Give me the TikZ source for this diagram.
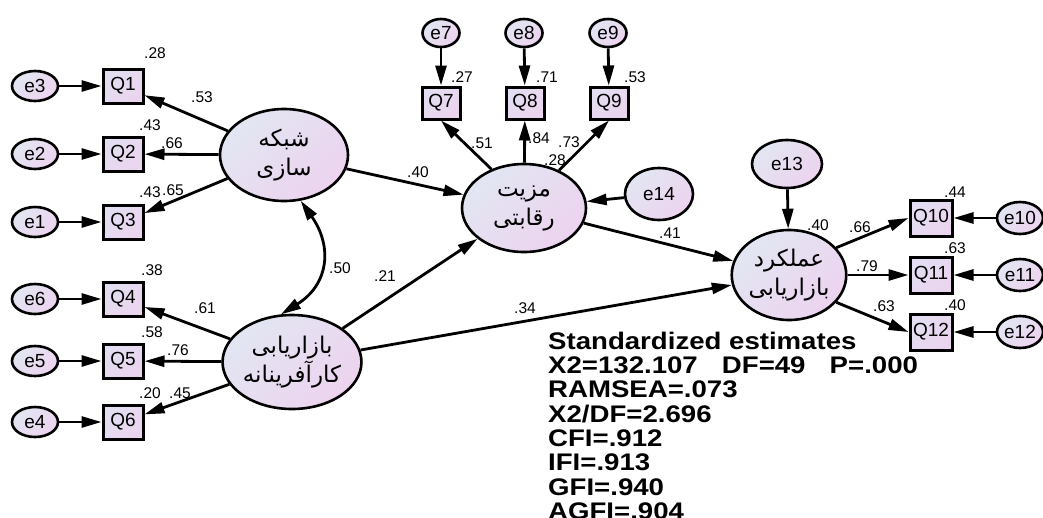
\documentclass[tikz,border=0pt]{standalone}
\usepackage{fontspec}
\setmainfont{Liberation Sans}
\newfontfamily\fa[Script=Arabic]{DejaVu Sans}
\TeXXeTstate=1
\usetikzlibrary{arrows.meta,shapes.geometric}
\definecolor{gA}{HTML}{E2E6F2}
\definecolor{gB}{HTML}{EDD3EF}
\definecolor{bA}{HTML}{E3DEF1}
\definecolor{bB}{HTML}{EAD4EE}
\begin{document}
\begin{tikzpicture}[x=1pt,y=-1pt,
  lat/.style={ellipse, draw=black, line width=2.6pt, top color=gA, bottom color=gB, shading angle=45, inner sep=0, font=\fa\fontsize{23}{29}\selectfont, align=center},
  err/.style={ellipse, draw=black, line width=2.6pt, top color=gA, bottom color=gB, shading angle=45, inner sep=0, font=\fontsize{19}{19}\selectfont},
  obs/.style={rectangle, draw=black, line width=3pt, top color=bA, bottom color=bB, shading angle=45, inner sep=0, minimum width=40pt, minimum height=34pt, font=\fontsize{19}{19}\selectfont},
  arr/.style={line width=2.8pt, -{Triangle[length=20pt,width=11pt]}},
  cov/.style={line width=2.8pt, {Triangle[length=20pt,width=11pt]}-{Triangle[length=20pt,width=11pt]}},
  lab/.style={font=\fontsize{15.5}{15.5}\selectfont, inner sep=0},
  smallerr/.style={err, minimum width=46pt, minimum height=30pt},
  toperr/.style={err, minimum width=37pt, minimum height=28pt},
  righterr/.style={err, minimum width=46pt, minimum height=32pt},
  topobs/.style={obs, minimum width=38pt, minimum height=32pt},
  rightobs/.style={obs, minimum width=42pt, minimum height=36pt},
]
\useasboundingbox (0,0) rectangle (1043,517);
\fill[white] (0,0) rectangle (1043,517);

% left error terms and indicators
\node[smallerr] (e3) at (35,86) {e3};
\node[smallerr] (e2) at (35,154) {e2};
\node[smallerr] (e1) at (35,222) {e1};
\node[smallerr] (e6) at (35,299) {e6};
\node[smallerr] (e5) at (35,361) {e5};
\node[smallerr] (e4) at (35,422) {e4};
\node[obs] (q1) at (123,86) {Q1};
\node[obs] (q2) at (123,154) {Q2};
\node[obs] (q3) at (123,222) {Q3};
\node[obs] (q4) at (123,299) {Q4};
\node[obs] (q5) at (123,361) {Q5};
\node[obs] (q6) at (123,422) {Q6};

% latent variables
\node[lat, minimum width=128pt, minimum height=92pt] (sh) at (284,155) {\beginR شبکه\endR\\\beginR سازی\endR};
\node[lat, minimum width=126pt, minimum height=94pt] (ka) at (292,362) {\beginR بازاریابی\endR\\\beginR کارآفرینانه\endR};
\node[lat, minimum width=124pt, minimum height=88pt] (mz) at (524,208) {\beginR مزیت\endR\\\beginR رقابتی\endR};
\node[lat, minimum width=114pt, minimum height=90pt] (am) at (789,275) {\beginR عملکرد\endR\\\beginR بازاریابی\endR};

% top
\node[toperr] (e7) at (441,33) {e7};
\node[toperr] (e8) at (524,33) {e8};
\node[toperr] (e9) at (608,33) {e9};
\node[topobs] (q7) at (441,103) {Q7};
\node[topobs] (q8) at (525,103) {Q8};
\node[topobs] (q9) at (609,103) {Q9};
\node[err, minimum width=68pt, minimum height=52pt] (e14) at (659,194) {e14};
\node[err, minimum width=70pt, minimum height=48pt] (e13) at (787,164) {e13};

% right
\node[rightobs] (q10) at (931,218) {Q10};
\node[rightobs] (q11) at (931,275) {Q11};
\node[rightobs] (q12) at (931,332) {Q12};
\node[righterr] (e10) at (1020,218) {e10};
\node[righterr] (e11) at (1020,275) {e11};
\node[righterr] (e12) at (1020,332) {e12};

% connectors
\foreach \e/\q in {e3/q1,e2/q2,e1/q3,e6/q4,e5/q5,e4/q6,e7/q7,e8/q8,e9/q9,e10/q10,e11/q11,e12/q12}
  \draw[arr] (\e) -- (\q);
\foreach \q in {q1,q2,q3} \draw[arr] (sh) -- (\q);
\foreach \q in {q4,q5,q6} \draw[arr] (ka) -- (\q);
\draw[arr] (mz.130) -- (q7.south);
\draw[arr] (mz) -- (q8);
\draw[arr] (mz.47) -- (q9.south);
\draw[arr] (am.30) -- (q10.west);
\draw[arr] (am) -- (q11);
\draw[arr] (am.-30) -- (q12.west);
\draw[arr] (e14) -- (mz);
\draw[arr] (e13) -- (am);
\draw[arr] (sh) -- (mz);
\draw[arr] (ka) -- (mz);
\draw[arr] (ka) -- (am);
\draw[arr] (mz) -- (am);
\draw[cov] (sh.-70) to[out=-55,in=32,looseness=1.25] (ka.103);

% labels
\node[lab] (l1) at (155,53) {.28};
\node[lab] (l2) at (202,97) {.53};
\node[lab] (l3) at (150,125) {.43};
\node[lab] (l4) at (172,143) {.66};
\node[lab] (l5) at (150,192) {.43};
\node[lab] (l6) at (173,190) {.65};
\node[lab] (l7) at (152,270) {.38};
\node[lab] (l8) at (205,308) {.61};
\node[lab] (l9) at (152,332) {.58};
\node[lab] (l10) at (178,350) {.76};
\node[lab] (l11) at (150,393) {.20};
\node[lab] (l12) at (180,393) {.45};
\node[lab] (l13) at (340,268) {.50};
\node[lab] (l14) at (418,172) {.40};
\node[lab] (l15) at (385,276) {.21};
\node[lab] (l16) at (525,308) {.34};
\node[lab] (l17) at (670,233) {.41};
\node[lab] (l18) at (482,143) {.51};
\node[lab] (l19) at (539,138) {.84};
\node[lab] (l20) at (569,142) {.73};
\node[lab] (l21) at (555,160) {.28};
\node[lab] (l22) at (462,77) {.27};
\node[lab] (l23) at (547,77) {.71};
\node[lab] (l24) at (635,77) {.53};
\node[lab] (l25) at (818,225) {.40};
\node[lab] (l26) at (860,227) {.66};
\node[lab] (l27) at (867,266) {.79};
\node[lab] (l28) at (884,306) {.63};
\node[lab] (l29) at (955,192) {.44};
\node[lab] (l30) at (955,248) {.63};
\node[lab] (l31) at (955,305) {.40};

% fit statistics
\node[anchor=base west, inner sep=0] (fit) at (548,349) {\scalebox{1.15}[1]{\fontsize{24}{24.3}\selectfont\bfseries\begin{tabular}[t]{@{}l@{}}Standardized estimates\\
X2=132.107\hspace{21pt}DF=49\hspace{21pt}P=.000\\
RAMSEA=.073\\
X2/DF=2.696\\
CFI=.912\\
IFI=.913\\
GFI=.940\\
AGFI=.904\end{tabular}}};
\end{tikzpicture}
\end{document}
